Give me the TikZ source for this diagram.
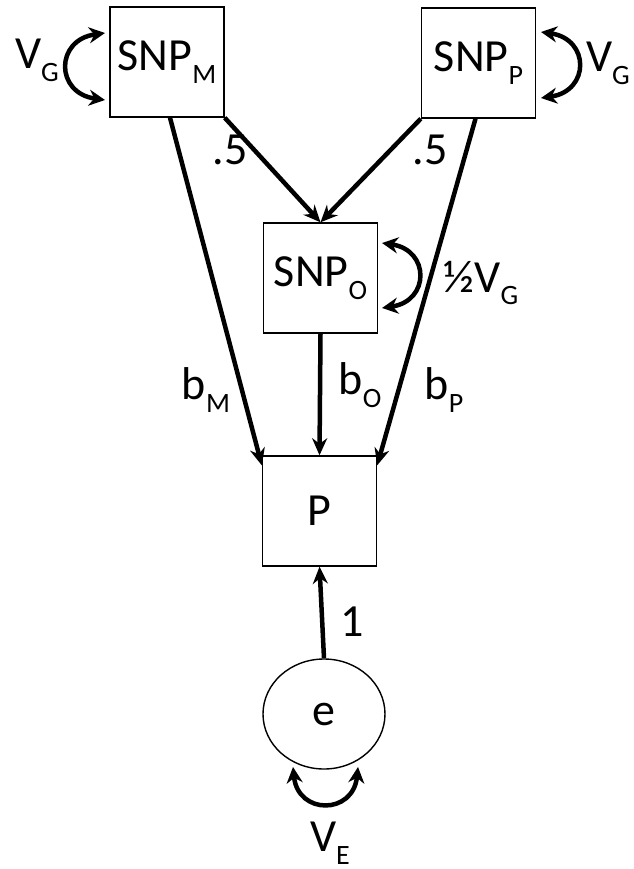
\documentclass[tikz,border=0pt]{standalone}
\usepackage{fontspec}
\setmainfont{Carlito}
\usetikzlibrary{arrows.meta,shapes.geometric}
% lowered, smaller index letter
\newcommand\idx[1]{\raisebox{-0.28em}{\fontsize{28}{30}\selectfont #1}}
\begin{document}
\begin{tikzpicture}[x=1pt,y=-1pt,
  varbox/.style={draw, line width=1.4pt, minimum width=114pt, minimum height=110pt,
    inner sep=0pt, font=\fontsize{46}{52}\selectfont},
  latent/.style={draw, ellipse, line width=1.4pt, minimum width=122pt, minimum height=110pt,
    inner sep=0pt, font=\fontsize{46}{52}\selectfont},
  lbl/.style={font=\fontsize{46}{52}\selectfont, inner sep=0pt},
  pathline/.style={line width=4.5pt, -{Stealth[length=17pt,width=15pt]}},
  covline/.style={line width=4.5pt, {Stealth[length=16pt,width=16pt]}-{Stealth[length=16pt,width=16pt]}}]
\useasboundingbox (0,0) rectangle (633,869);

% variables
\node[varbox] (snpm) at (167,62) {SNP\idx{M}};
\node[varbox] (snpp) at (478.5,63) {SNP\idx{P}};
\node[varbox] (snpo) at (320.5,278) {SNP\idx{O}};
\node[varbox] (pheno) at (319.5,511) {P};
\node[latent] (err) at (324,714) {e};

% transmission paths
\draw[pathline] (snpm.south east) -- (snpo.north);
\draw[pathline] (snpp.south west) -- (snpo.north);
\draw[pathline] ([xshift=3pt]snpm.south) -- ([yshift=-10pt]pheno.north west);
\draw[pathline] ([xshift=-3pt]snpp.south) -- ([yshift=-10pt]pheno.north east);
\draw[pathline] (snpo.south) -- (pheno.north);
\draw[pathline] (err.north) -- (pheno.south);

% variances
\draw[covline] (105,33) .. controls (55,40) and (55,93) .. (105,100);
\draw[covline] (541,32) .. controls (590,39) and (590,91) .. (541,98);
\draw[covline] (382,243) .. controls (430,250) and (430,301) .. (382,308);
\draw[covline] (293,767) .. controls (298,815) and (353,815) .. (358,767);

% labels
\node[lbl] (vgm) at (37,60) {V\idx{G}};
\node[lbl] (vgp) at (608,63) {V\idx{G}};
\node[lbl] (hm) at (230,150) {.5};
\node[lbl] (hp) at (430,150) {.5};
\node[lbl] (vgo) at (481,283) {½V\idx{G}};
\node[lbl] (bm) at (206,390) {b\idx{M}};
\node[lbl] (bo) at (360,385) {b\idx{O}};
\node[lbl] (bp) at (444,390) {b\idx{P}};
\node[lbl] (one) at (352,622) {1};
\node[lbl] (ve) at (330,843) {V\idx{E}};
\end{tikzpicture}
\end{document}
